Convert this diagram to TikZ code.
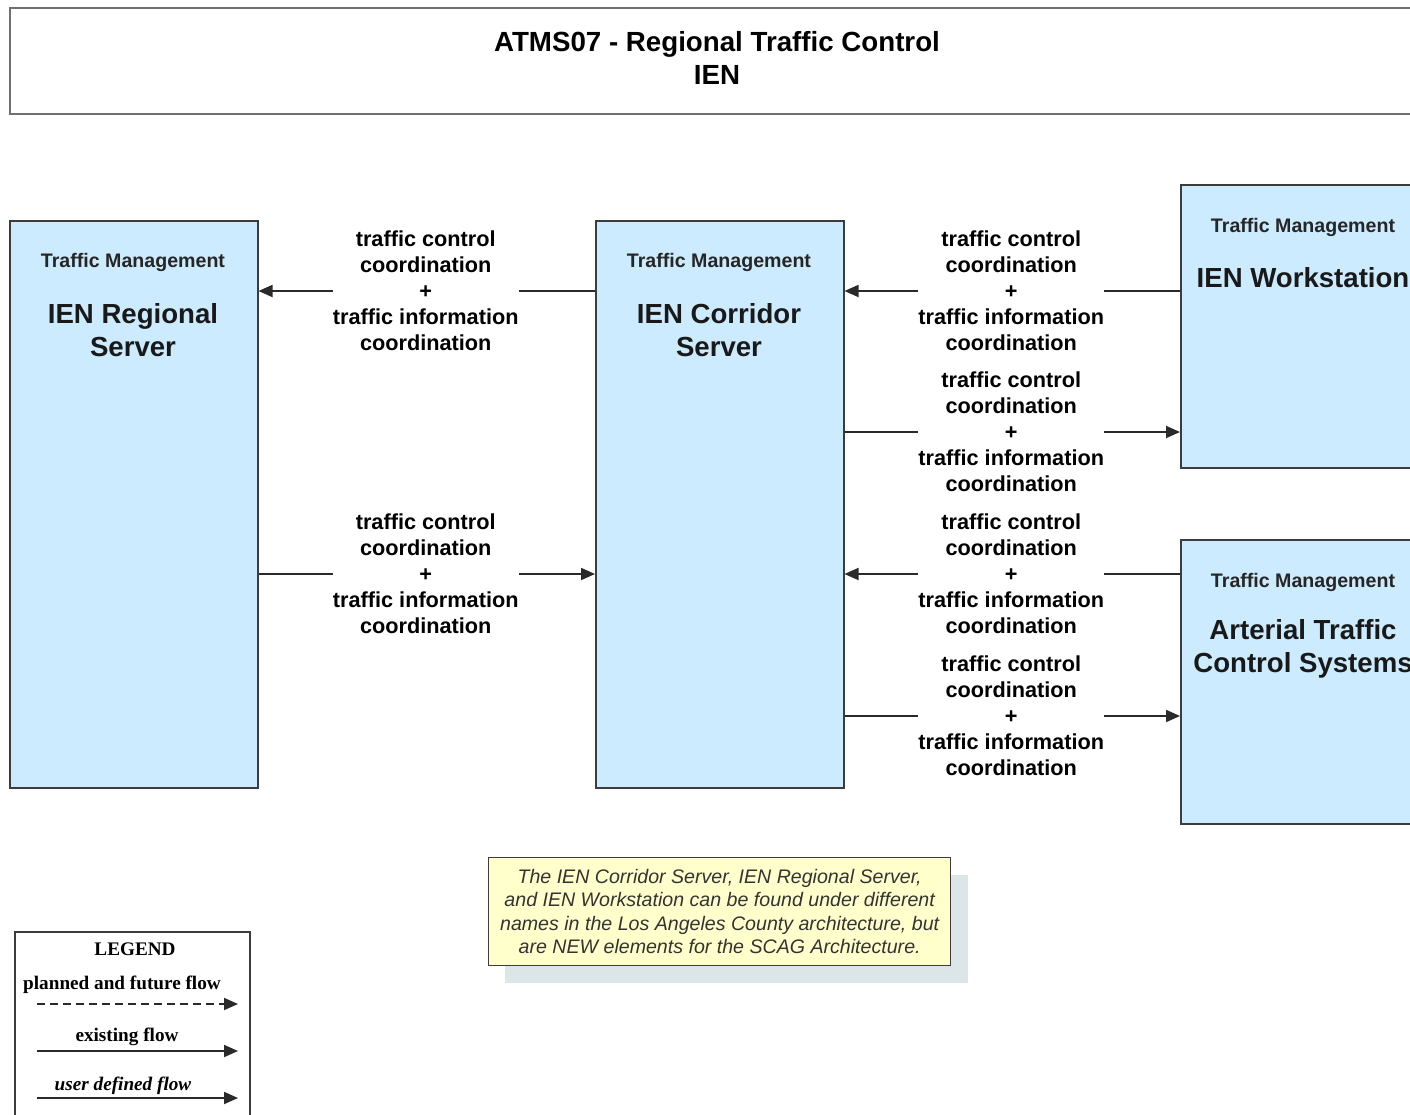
\documentclass[tikz,border=0pt]{standalone}
\usepackage{fontspec}
\setmainfont{Liberation Sans}
\newfontfamily\legendfont{Liberation Serif}
\usetikzlibrary{arrows.meta}

\definecolor{boxfill}{HTML}{CCEBFF}
\definecolor{boxedge}{HTML}{3C3C3C}
\definecolor{titleedge}{HTML}{707070}
\definecolor{flowgray}{HTML}{2A2A2A}
\definecolor{notefill}{HTML}{FFFFCC}
\definecolor{noteshadow}{HTML}{DCE5E8}

\tikzset{
  sysbox/.style={draw=boxedge, fill=boxfill, line width=1.5pt, anchor=north west, inner sep=0pt},
  category/.style={font=\fontsize{19.6}{23}\selectfont\bfseries, text=black!85},
  sysname/.style={font=\fontsize{27.6}{33}\selectfont\bfseries, align=center, text=black!90},
  flow/.style={draw=flowgray, line width=1.8pt, -{Triangle[length=14pt,width=12pt]}},
  flowlabel/.style={fill=white, inner xsep=0pt, inner ysep=3pt, align=center,
    font=\fontsize{21.7}{26}\selectfont\bfseries},
  legendtext/.style={font=\legendfont\fontsize{19.2}{21}\selectfont\bfseries}
}

\newcommand{\flowtext}{traffic control\\coordination\\+\\traffic information\\coordination}

\begin{document}
\begin{tikzpicture}[x=1pt, y=-1pt]
\clip (0,0) rectangle (1410,1114);
\fill[white] (0,0) rectangle (1410,1114);

% title banner
\node[draw=titleedge, line width=2pt, anchor=north west, minimum width=1430pt,
      minimum height=106pt, inner sep=0pt] (banner) at (9,7) {};
\node[font=\fontsize{27.7}{33}\selectfont\bfseries, align=center] (title) at (717,58)
  {ATMS07 - Regional Traffic Control\\IEN};

% systems
\node[sysbox, minimum width=248pt, minimum height=567pt] (regional) at (9,220) {};
\node[sysbox, minimum width=248pt, minimum height=567pt] (corridor) at (595,220) {};
\node[sysbox, minimum width=248pt, minimum height=283pt] (workstation) at (1180,184) {};
\node[sysbox, minimum width=248pt, minimum height=284pt] (arterial) at (1180,539) {};

\node[category] (regionalcat) at (133,262) {Traffic Management};
\node[sysname] (regionalname) at (133,330) {IEN Regional\\Server};
\node[category] (corridorcat) at (719,262) {Traffic Management};
\node[sysname] (corridorname) at (719,330) {IEN Corridor\\Server};
\node[category] (workstationcat) at (1303,227) {Traffic Management};
\node[sysname] (workstationname) at (1303,278) {IEN Workstation};
\node[category] (arterialcat) at (1303,582) {Traffic Management};
\node[sysname] (arterialname) at (1303,649) {Arterial Traffic\\Control Systems};

% flows
\draw[flow] (corridor.west |- 0,291) -- node[flowlabel, xshift=-1pt] {\flowtext} (regional.east |- 0,291);
\draw[flow] (regional.east |- 0,574) -- node[flowlabel, xshift=-1pt] {\flowtext} (corridor.west |- 0,574);
\draw[flow] (workstation.west |- 0,291) -- node[flowlabel, xshift=-1pt] {\flowtext} (corridor.east |- 0,291);
\draw[flow] (corridor.east |- 0,432) -- node[flowlabel, xshift=-1pt] {\flowtext} (workstation.west |- 0,432);
\draw[flow] (arterial.west |- 0,574) -- node[flowlabel, xshift=-1pt] {\flowtext} (corridor.east |- 0,574);
\draw[flow] (corridor.east |- 0,716) -- node[flowlabel, xshift=-1pt] {\flowtext} (arterial.west |- 0,716);

% note
\fill[noteshadow] (505,875) rectangle (968,983);
\node[draw=boxedge, fill=notefill, line width=1.3pt, anchor=north west, minimum width=462pt,
      minimum height=108pt, inner sep=0pt] (note) at (488,857) {};
\node[font=\fontsize{19.6}{23.5}\selectfont\itshape, align=center, text=black!80] (notetext)
  at (note.center)
  {The IEN Corridor Server, IEN Regional Server,\\and IEN Workstation can be found under different\\names in the Los Angeles County architecture, but\\are NEW elements for the SCAG Architecture.};

% legend
\node[draw=boxedge, line width=1.5pt, anchor=north west, minimum width=235pt,
      minimum height=200pt, inner sep=0pt] (legend) at (14,931) {};
\node[legendtext] (legendhead) at (135,949) {LEGEND};
\node[legendtext] (plannedtext) at (122,985) {planned and future flow};
\coordinate (plannedstart) at (37,1004);
\coordinate (plannedend) at (238,1004);
\draw[flow, dashed, dash pattern=on 8pt off 5pt] (plannedstart) -- (plannedend);
\node[legendtext] (existingtext) at (127,1037) {existing flow};
\coordinate (existingstart) at (37,1051);
\coordinate (existingend) at (238,1051);
\draw[flow] (existingstart) -- (existingend);
\node[legendtext, font=\legendfont\fontsize{19.2}{21}\selectfont\bfseries\itshape] (usertext) at (123,1086) {user defined flow};
\coordinate (userstart) at (37,1098);
\coordinate (userend) at (238,1098);
\draw[flow] (userstart) -- (userend);
\end{tikzpicture}
\end{document}
